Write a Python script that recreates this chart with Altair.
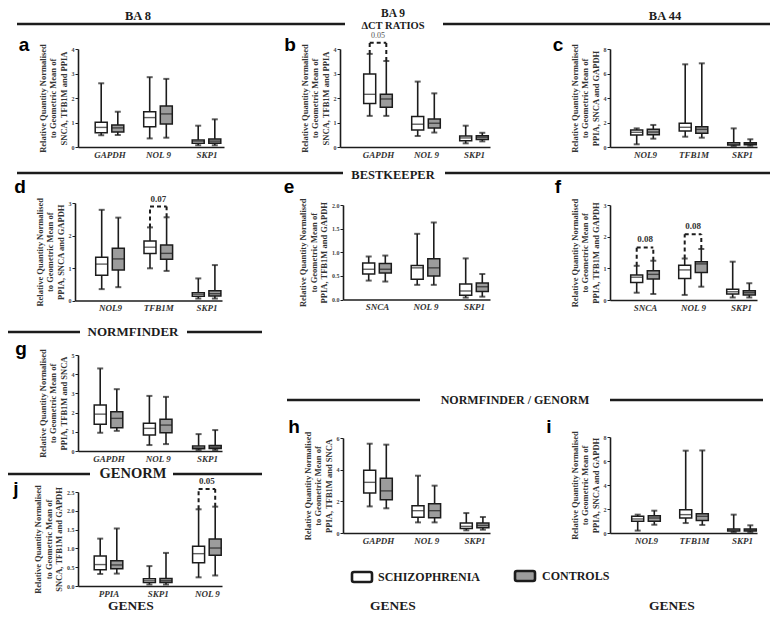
import altair as alt
import pandas as pd

W, H, M = 762, 604, 8
SERIF = "Liberation Serif"
SANS = "Liberation Sans"
INK = "#1c1c1c"
GREY = "#9c9c9c"
GROUPS = ["SCHIZOPHRENIA", "CONTROLS"]
FILLS = {"SCHIZOPHRENIA": "white", "CONTROLS": GREY}
SHIFT = {"SCHIZOPHRENIA": -8.3, "CONTROLS": 8.3}

# ---------------- data: per gene [min, q1, median, q3, max] ----------------
a_genes = ["GAPDH", "NOL 9", "SKP1"]
a_scz = [[0.48, 0.58, 0.80, 1.01, 2.60], [0.35, 0.83, 1.20, 1.44, 2.85], [0.07, 0.15, 0.23, 0.29, 0.87]]
a_ctl = [[0.49, 0.61, 0.78, 0.90, 1.44], [0.38, 0.94, 1.35, 1.67, 2.78], [0.07, 0.15, 0.24, 0.33, 1.13]]
a_ticks = [0, 1, 2, 3, 4]
a_norm = "SNCA, TFB1M and PPIA"
a_sig = []

b_genes = ["GAPDH", "NOL 9", "SKP1"]
b_scz = [[1.27, 1.78, 2.15, 2.98, 3.80], [0.45, 0.69, 0.93, 1.24, 2.67], [0.15, 0.26, 0.37, 0.45, 0.87]]
b_ctl = [[1.27, 1.62, 1.96, 2.15, 3.51], [0.59, 0.78, 0.97, 1.14, 2.19], [0.23, 0.31, 0.40, 0.46, 0.58]]
b_ticks = [0, 1, 2, 3, 4]
b_norm = "SNCA, TFB1M and PPIA"
b_sig = [("GAPDH", 4.26, "0.05")]

c_genes = ["NOL9", "TFB1M", "SKP1"]
c_scz = [[0.22, 0.98, 1.20, 1.39, 1.52], [0.84, 1.31, 1.61, 1.93, 6.75], [0.08, 0.16, 0.24, 0.35, 1.52]]
c_ctl = [[0.68, 1.00, 1.22, 1.44, 1.80], [0.76, 1.12, 1.44, 1.66, 6.83], [0.10, 0.18, 0.27, 0.35, 0.63]]
c_ticks = [0, 2, 4, 6, 8]
c_norm = "PPIA, SNCA and GAPDH"
c_sig = []

d_genes = ["NOL9", "TFB1M", "SKP1"]
d_scz = [[0.35, 0.78, 1.12, 1.33, 2.79], [0.99, 1.45, 1.64, 1.83, 2.25], [0.06, 0.13, 0.19, 0.24, 0.68]]
d_ctl = [[0.41, 0.94, 1.28, 1.61, 2.55], [0.91, 1.27, 1.45, 1.71, 2.56], [0.06, 0.14, 0.21, 0.30, 1.09]]
d_ticks = [0, 1, 2, 3]
d_norm = "PPIA, SNCA and GAPDH"
d_sig = [("TFB1M", 2.89, "0.07")]

e_genes = ["SNCA", "NOL 9", "SKP1"]
e_scz = [[0.40, 0.54, 0.64, 0.77, 0.91], [0.31, 0.43, 0.67, 0.72, 1.39], [0.04, 0.09, 0.18, 0.33, 0.87]]
e_ctl = [[0.38, 0.56, 0.64, 0.76, 0.93], [0.31, 0.50, 0.67, 0.86, 1.63], [0.06, 0.17, 0.27, 0.35, 0.54]]
e_ticks = [0, 0.5, 1.0, 1.5, 2.0]
e_norm = "PPIA, TFB1M and GAPDH"
e_sig = []

f_genes = ["SNCA", "NOL 9", "SKP1"]
f_scz = [[0.23, 0.55, 0.72, 0.79, 1.08], [0.16, 0.68, 0.95, 1.10, 1.31], [0.08, 0.19, 0.26, 0.34, 1.21]]
f_ctl = [[0.19, 0.66, 0.81, 0.92, 1.24], [0.42, 0.87, 1.14, 1.21, 1.61], [0.08, 0.16, 0.23, 0.29, 0.53]]
f_ticks = [0, 1, 2, 3]
f_norm = "PPIA, TFB1M and GAPDH"
f_sig = [("SNCA", 1.66, "0.08"), ("NOL 9", 2.08, "0.08")]

g_genes = ["GAPDH", "NOL 9", "SKP1"]
g_scz = [[0.95, 1.39, 1.92, 2.39, 4.30], [0.31, 0.83, 1.18, 1.44, 2.87], [0.05, 0.12, 0.18, 0.26, 0.88]]
g_ctl = [[1.05, 1.21, 1.70, 2.04, 3.22], [0.36, 0.95, 1.35, 1.65, 2.82], [0.05, 0.13, 0.20, 0.29, 1.09]]
g_ticks = [0, 1, 2, 3, 4, 5]
g_norm = "PPIA, TFB1M and SNCA"
g_sig = []

j_genes = ["PPIA", "SKP1", "NOL 9"]
j_scz = [[0.32, 0.43, 0.57, 0.80, 1.26], [0.04, 0.09, 0.14, 0.19, 0.53], [0.23, 0.62, 0.86, 1.06, 2.04]]
j_ctl = [[0.33, 0.46, 0.56, 0.67, 1.53], [0.04, 0.09, 0.14, 0.20, 0.88], [0.28, 0.82, 1.01, 1.25, 2.11]]
j_ticks = [0, 0.5, 1.0, 1.5, 2.0, 2.5]
j_norm = "SNCA, TFB1M and GAPDH"
j_sig = [("NOL 9", 2.58, "0.05")]

h_genes = ["GAPDH", "NOL 9", "SKP1"]
h_scz = [[1.68, 2.53, 3.20, 3.96, 5.64], [0.67, 1.00, 1.41, 1.72, 3.62], [0.17, 0.29, 0.42, 0.63, 1.26]]
h_ctl = [[1.56, 2.10, 2.66, 3.46, 5.58], [0.67, 0.97, 1.41, 1.85, 2.99], [0.21, 0.33, 0.48, 0.63, 1.01]]
h_ticks = [0, 2, 4, 6]
h_norm = "PPIA, TFB1M and SNCA"
h_sig = []

i_genes = ["NOL9", "TFB1M", "SKP1"]
i_scz = [[0.20, 0.97, 1.17, 1.39, 1.53], [0.83, 1.25, 1.53, 1.94, 6.86], [0.08, 0.17, 0.25, 0.33, 1.53]]
i_ctl = [[0.69, 0.97, 1.25, 1.44, 1.86], [0.67, 1.05, 1.39, 1.61, 6.88], [0.08, 0.17, 0.25, 0.33, 0.64]]
i_ticks = [0, 2, 4, 6, 8]
i_norm = "PPIA, SNCA and GAPDH"
i_sig = []

# ---------------- layout (page pixels) ----------------
# x axis start, x axis end, first gene centre, gene step, y of top tick, y of zero
LAYOUT = {
    "a": (78, 224, 109.5, 48.5, 49, 147),
    "b": (340, 490, 378, 48, 49, 147),
    "c": (610, 757, 645, 48.5, 49, 147),
    "d": (75, 222, 110, 48.3, 203, 300.5),
    "e": (343, 490, 377, 48.5, 205, 299.5),
    "f": (610, 757, 645, 48, 205, 300),
    "g": (78, 222, 108.5, 49.2, 355, 451),
    "j": (78, 222, 108.5, 49.2, 492, 586),
    "h": (343, 490, 378, 48.3, 438, 533),
    "i": (610, 757, 646, 48, 437, 533),
}


def make_panel(key, genes, scz, ctl, ticks, norm, sig, sig_weight="bold", sig_size=9, sig_dy=-8):
    x0, x1, c0, step, ytop, yzero = LAYOUT[key]
    L = x1 - x0
    pad = (L / step - 2) / 2
    align = (c0 - x0) / (L - 2 * step)
    xs = alt.Scale(type="point", domain=genes, range=[x0 - M, x1 - M], padding=pad, align=align)
    ys = alt.Scale(domain=[0, ticks[-1]], range=[yzero - M, ytop - M], nice=False, zero=False)
    fmt = ".1f" if any(isinstance(t, float) for t in ticks) else "d"
    xaxis = alt.Axis(orient="bottom", offset=(yzero - M) - H, title=None, ticks=False,
                     labelFont=SERIF, labelFontStyle="italic", labelFontWeight="bold",
                     labelFontSize=9, labelPadding=3, labelAngle=0, labelColor="#333",
                     domainWidth=1.6, domainColor=INK, grid=False)
    yaxis = alt.Axis(orient="left", offset=-(x0 - M), values=ticks, format=fmt,
                     title=["Relative Quantity Normalised", "to Geometric Mean of", norm],
                     titleFont=SERIF, titleFontSize=8.5, titleFontWeight="bold",
                     titleLineHeight=10.5, titlePadding=3, titleColor="#333",
                     labelFont=SERIF, labelFontSize=6, labelFontWeight="bold", labelColor="#444",
                     labelPadding=1, tickSize=3, tickColor=INK, domainWidth=1.6,
                     domainColor=INK, grid=False)
    X = alt.X("gene:N", scale=xs, axis=xaxis)

    def Y(f):
        return alt.Y(f"{f}:Q", scale=ys, axis=yaxis)

    layers = []
    for grp, stats in zip(GROUPS, [scz, ctl]):
        df = pd.DataFrame({
            "gene": genes,
            "lo": [s[0] for s in stats],
            "q1": [s[1] for s in stats],
            "med": [s[2] for s in stats],
            "q3": [s[3] for s in stats],
            "hi": [s[4] for s in stats],
        })
        base = alt.Chart(df)
        dx = SHIFT[grp]
        layers += [
            base.mark_rule(xOffset=dx, color=INK, strokeWidth=1.6).encode(x=X, y=Y("lo"), y2="hi"),
            base.mark_tick(xOffset=dx, color=INK, size=6, thickness=2).encode(x=X, y=Y("lo")),
            base.mark_tick(xOffset=dx, color=INK, size=6, thickness=2).encode(x=X, y=Y("hi")),
            base.mark_bar(xOffset=dx, size=12, fill=FILLS[grp], stroke=INK, strokeWidth=1.5)
            .encode(x=X, y=Y("q1"), y2="q3"),
            base.mark_tick(xOffset=dx, color=INK, size=12, thickness=1.4).encode(x=X, y=Y("med")),
        ]
    if sig:
        rows = []
        for gene, top, label in sig:
            k = genes.index(gene)
            rows.append({"gene": gene, "top": top, "label": label,
                         "hs": scz[k][4], "hc": ctl[k][4]})
        sd = alt.Chart(pd.DataFrame(rows))
        dash = dict(color=INK, strokeWidth=2, strokeDash=[4, 3])
        layers += [
            sd.mark_rule(xOffset=SHIFT["SCHIZOPHRENIA"], **dash).encode(x=X, y=Y("hs"), y2="top"),
            sd.mark_rule(xOffset=SHIFT["CONTROLS"], **dash).encode(x=X, y=Y("hc"), y2="top"),
            sd.mark_rule(xOffset=SHIFT["SCHIZOPHRENIA"], x2Offset=SHIFT["CONTROLS"], **dash)
            .encode(x=X, x2="gene:N", y=Y("top")),
            sd.mark_text(dy=sig_dy, font=SERIF, fontSize=sig_size, fontWeight=sig_weight,
                         color="#333" if sig_weight == "bold" else "#555")
            .encode(x=X, y=Y("top"), text="label:N"),
        ]
    return alt.layer(*layers)


panels = [
    make_panel("a", a_genes, a_scz, a_ctl, a_ticks, a_norm, a_sig),
    make_panel("b", b_genes, b_scz, b_ctl, b_ticks, b_norm, b_sig, sig_weight="normal",
               sig_size=8, sig_dy=-7),
    make_panel("c", c_genes, c_scz, c_ctl, c_ticks, c_norm, c_sig),
    make_panel("d", d_genes, d_scz, d_ctl, d_ticks, d_norm, d_sig),
    make_panel("e", e_genes, e_scz, e_ctl, e_ticks, e_norm, e_sig),
    make_panel("f", f_genes, f_scz, f_ctl, f_ticks, f_norm, f_sig),
    make_panel("g", g_genes, g_scz, g_ctl, g_ticks, g_norm, g_sig),
    make_panel("j", j_genes, j_scz, j_ctl, j_ticks, j_norm, j_sig),
    make_panel("h", h_genes, h_scz, h_ctl, h_ticks, h_norm, h_sig),
    make_panel("i", i_genes, i_scz, i_ctl, i_ticks, i_norm, i_sig),
]

# ---------------- annotations (page pixels) ----------------
header_text = [
    ("BA 8", 138, 15.5, 12.5, "center"),
    ("BA 9", 393, 14, 11.5, "center"),
    ("\u0394CT RATIOS", 393, 25.5, 10.5, "center"),
    ("BA 44", 665, 15.5, 12.5, "center"),
    ("BESTKEEPER", 393, 175, 12.5, "center"),
    ("NORMFINDER", 133, 332, 13, "center"),
    ("GENORM", 133, 474, 14.5, "center"),
    ("NORMFINDER / GENORM", 515, 400, 12, "center"),
    ("GENES", 131, 606, 13.5, "center"),
    ("GENES", 393, 606, 13.5, "center"),
    ("GENES", 672, 606, 13.5, "center"),
    ("SCHIZOPHRENIA", 378, 577, 12, "left"),
    ("CONTROLS", 542, 576, 12, "left"),
]
header_rules = [
    (17, 345, 24), (443, 778, 24),
    (17, 343, 173), (445, 775, 173),
    (3, 80, 332), (187, 262, 332),
    (3, 90, 474), (173, 262, 474),
    (287, 420, 400), (610, 763, 400),
]
letters = [("a", 24, 45), ("b", 290, 45), ("c", 558, 45), ("d", 20, 187), ("e", 289, 187),
           ("f", 558, 187), ("g", 21, 349), ("j", 16, 489), ("h", 294, 427), ("i", 549, 427)]
legend_boxes = [(352, 372, 572, 582, "white"), (515, 535, 571, 581, GREY)]

PX = dict(scale=None, axis=None)

ht = pd.DataFrame([{"t": t, "x": x - M, "y": y - M, "fs": fs, "al": al} for t, x, y, fs, al in header_text])
text_layers = []
for al in ["center", "left"]:
    text_layers.append(
        alt.Chart(ht[ht["al"] == al]).mark_text(font=SERIF, fontWeight="bold", color=INK,
                                                align=al, baseline="middle")
        .encode(x=alt.X("x:Q", **PX), y=alt.Y("y:Q", **PX), text="t:N",
                size=alt.Size("fs:Q", scale=None, legend=None))
    )
rules_df = pd.DataFrame([{"x": a - M, "x2": b - M, "y": y - M} for a, b, y in header_rules])
rules_layer = alt.Chart(rules_df).mark_rule(color=INK, strokeWidth=2.6).encode(
    x=alt.X("x:Q", **PX), x2="x2:Q", y=alt.Y("y:Q", **PX))
let_df = pd.DataFrame([{"t": t, "x": x - M, "y": y - M} for t, x, y in letters])
let_layer = alt.Chart(let_df).mark_text(font=SANS, fontWeight="bold", fontSize=19, color="#000",
                                        align="center", baseline="middle").encode(
    x=alt.X("x:Q", **PX), y=alt.Y("y:Q", **PX), text="t:N")
leg_df = pd.DataFrame([{"x": a - M, "x2": b - M, "y": c - M, "y2": d - M, "f": f}
                       for a, b, c, d, f in legend_boxes])
leg_layer = alt.Chart(leg_df).mark_rect(stroke=INK, strokeWidth=2.6, cornerRadius=2).encode(
    x=alt.X("x:Q", **PX), x2="x2:Q", y=alt.Y("y:Q", **PX), y2="y2:Q",
    fill=alt.Fill("f:N", scale=None, legend=None))

chart = alt.layer(*panels, rules_layer, leg_layer, let_layer, *text_layers).resolve_scale(
    x="independent", y="independent").resolve_axis(x="independent", y="independent").properties(
    width=W, height=H, padding=0, autosize=alt.AutoSizeParams(type="none"),
    background="white").configure_view(stroke=None)

chart.save("out.html", embed_options={"renderer": "svg", "actions": False})
